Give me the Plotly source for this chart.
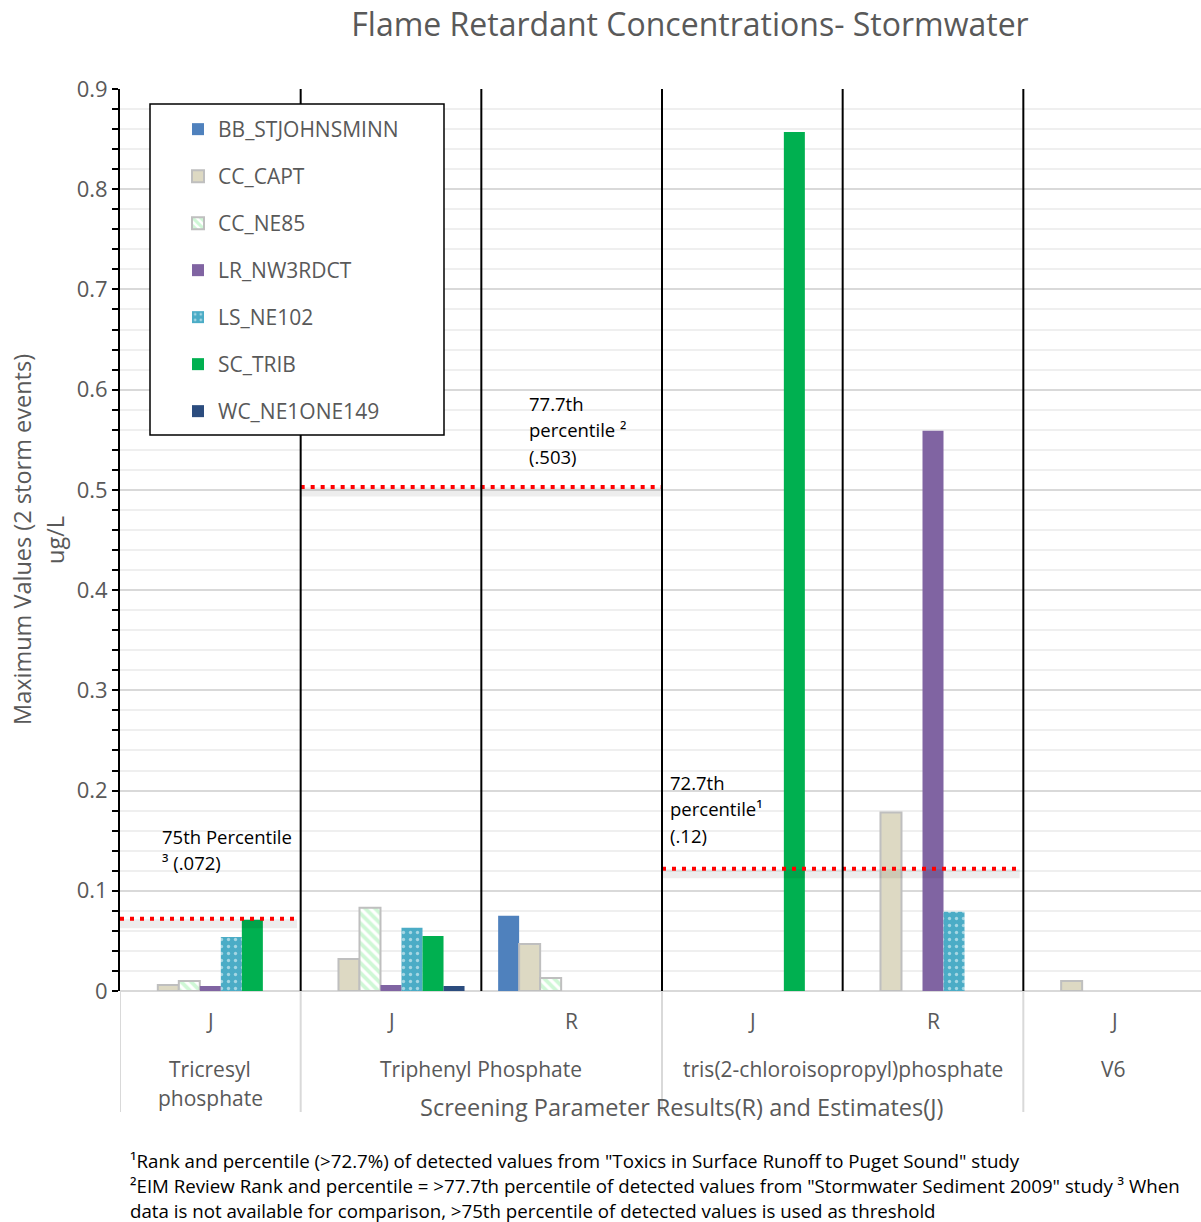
import plotly.graph_objects as go

# ---------------- data ----------------
slots = [0, 1, 2, 3, 4, 5]
sub_labels = ["J", "J", "R", "J", "R", "J"]
group_labels = [("Tricresyl", "phosphate"), ("Triphenyl Phosphate",), ("tris(2-chloroisopropyl)phosphate",), ("V6",)]
group_centers = [0, 1.5, 3.5, 5]

series_names = ["BB_STJOHNSMINN", "CC_CAPT", "CC_NE85", "LR_NW3RDCT", "LS_NE102", "SC_TRIB", "WC_NE1ONE149"]
bb_stjohnsminn = [0, 0, 0.075, 0, 0, 0]
cc_capt = [0.006, 0.032, 0.047, 0, 0.178, 0.010]
cc_ne85 = [0.010, 0.083, 0.013, 0, 0, 0]
lr_nw3rdct = [0.005, 0.006, 0, 0, 0.559, 0]
ls_ne102 = [0.054, 0.063, 0, 0, 0.079, 0]
sc_trib = [0.071, 0.055, 0, 0.857, 0, 0]
wc_ne1one149 = [0, 0.005, 0, 0, 0, 0]
series_values = [bb_stjohnsminn, cc_capt, cc_ne85, lr_nw3rdct, ls_ne102, sc_trib, wc_ne1one149]

threshold_values = [0.072, 0.503, 0.122]
threshold_spans = [(-0.5, 0.48), (0.5, 2.5), (2.5, 4.48)]
threshold_texts = [["75th Percentile", "³ (.072)"], ["77.7th", "percentile ²", "(.503)"], ["72.7th", "percentile¹", "(.12)"]]

y_ticks = [0, 0.1, 0.2, 0.3, 0.4, 0.5, 0.6, 0.7, 0.8, 0.9]
y_ticklabels = ["0", "0.1", "0.2", "0.3", "0.4", "0.5", "0.6", "0.7", "0.8", "0.9"]

footnotes = [
    "¹Rank and percentile (>72.7%) of detected values from \"Toxics in Surface Runoff to Puget Sound\" study",
    "²EIM Review Rank and percentile = >77.7th percentile of detected values from \"Stormwater Sediment 2009\" study ³ When",
    "data is not available for comparison, >75th percentile of detected values is used as threshold",
]

# ---------------- styling ----------------
FONT = "Open Sans"
GRAY = "#595959"
W, H = 1201, 1222
L, T, B = 120, 89, 231
PW = W - L
PH = H - T - B


def px_x(p):
    return (p - L) / PW


def px_y(p):
    return (H - B - p) / PH


styles = [
    dict(color="#4f81bd", line=dict(width=0)),
    dict(color="#ddd9c3", line=dict(color="#bfbfbf", width=2)),
    dict(color="white", line=dict(color="#bfbfbf", width=2),
         pattern=dict(shape="\\", fgcolor="#9ff0ad", bgcolor="white", size=7, solidity=0.55, fillmode="overlay")),
    dict(color="#8064a2", line=dict(width=0)),
    dict(color="#4bacc6", line=dict(width=0),
         pattern=dict(shape=".", fgcolor="white", bgcolor="#4bacc6", size=7, solidity=0.18, fillmode="overlay")),
    dict(color="#00b050", line=dict(width=0)),
    dict(color="#2b4c7e", line=dict(width=0)),
]

fig = go.Figure()
for i, (name, vals) in enumerate(zip(series_names, series_values)):
    yv = [v if v else None for v in vals]
    fig.add_trace(go.Bar(x=slots, y=yv, name=name, marker=styles[i], legendgroup=name))

# threshold lines (shadow + dotted red)
for v, (x0, x1) in zip(threshold_values, threshold_spans):
    fig.add_trace(go.Scatter(x=[x0, x1], y=[v - 0.005, v - 0.005], mode="lines",
                             line=dict(color="rgba(0,0,0,0.07)", width=9), showlegend=False, hoverinfo="skip"))
    fig.add_trace(go.Scatter(x=[x0, x1], y=[v, v], mode="lines",
                             line=dict(color="#ff0000", width=4, dash="4px,6px"), showlegend=False, hoverinfo="skip"))

shapes = []
for xs in [0.5, 1.5, 2.5, 3.5, 4.5]:
    shapes.append(dict(type="line", xref="x", yref="paper", x0=xs, x1=xs, y0=0, y1=1,
                       line=dict(color="black", width=2)))
for xs in [-0.5, 0.5, 2.5, 4.5]:
    shapes.append(dict(type="line", xref="x", yref="paper", x0=xs, x1=xs, y0=0, y1=px_y(1112),
                       line=dict(color="#d9d9d9", width=2)))
shapes.append(dict(type="rect", xref="paper", yref="paper", x0=px_x(150), x1=px_x(444), y0=px_y(435), y1=px_y(104),
                   fillcolor="white", line=dict(color="black", width=1.5), layer="above"))

annotations = []
for xs, lab in zip(slots, sub_labels):
    annotations.append(dict(x=xs, y=px_y(1021), xref="x", yref="paper", text=lab, showarrow=False,
                            font=dict(family=FONT, size=21, color=GRAY), xanchor="center", yanchor="middle"))
for xc, lines in zip(group_centers, group_labels):
    for k, ln in enumerate(lines):
        annotations.append(dict(x=xc, y=px_y(1069 + 29 * k), xref="x", yref="paper", text=ln, showarrow=False,
                                font=dict(family=FONT, size=21, color=GRAY), xanchor="center", yanchor="middle"))
annotations.append(dict(x=px_x(681), y=px_y(1107), xref="paper", yref="paper",
                        text="Screening Parameter Results(R) and Estimates(J)", showarrow=False,
                        font=dict(family=FONT, size=23.5, color=GRAY), xanchor="center", yanchor="middle"))
annotations.append(dict(x=px_x(22), y=px_y(540), xref="paper", yref="paper",
                        text="Maximum Values (2 storm events)", textangle=-90, showarrow=False,
                        font=dict(family=FONT, size=23.5, color=GRAY), xanchor="center", yanchor="middle"))
annotations.append(dict(x=px_x(55), y=px_y(540), xref="paper", yref="paper",
                        text="ug/L", textangle=-90, showarrow=False,
                        font=dict(family=FONT, size=23.5, color=GRAY), xanchor="center", yanchor="middle"))
txt_pos = [(160, 836), (527, 403), (668, 782)]
for (tx, ty), lines in zip(txt_pos, threshold_texts):
    for k, ln in enumerate(lines):
        annotations.append(dict(x=px_x(tx), y=px_y(ty + 26.5 * k), xref="paper", yref="paper", text=ln,
                                showarrow=False, font=dict(family=FONT, size=18.5, color="black"),
                                xanchor="left", yanchor="middle"))
for k, ln in enumerate(footnotes):
    annotations.append(dict(x=px_x(128), y=px_y(1160 + 25 * k), xref="paper", yref="paper", text=ln,
                            showarrow=False, font=dict(family=FONT, size=18.7, color="black"),
                            xanchor="left", yanchor="middle"))

fig.update_layout(
    width=W, height=H,
    margin=dict(l=L, r=0, t=T, b=B),
    paper_bgcolor="white", plot_bgcolor="white",
    barmode="group", bargap=0.186, bargroupgap=0,
    title=dict(text="Flame Retardant Concentrations- Stormwater", x=690 / W, xanchor="center",
               y=1 - 25 / H, yanchor="middle", font=dict(family=FONT, size=32, color=GRAY)),
    font=dict(family=FONT, color=GRAY),
    legend=dict(x=px_x(178), y=px_y(109), xanchor="left", yanchor="top", bgcolor="rgba(0,0,0,0)",
                borderwidth=0, font=dict(family=FONT, size=21, color=GRAY), tracegroupgap=16.7,
                traceorder="grouped"),
    xaxis=dict(range=[-0.5, 5.5 - 3 / 180.67], showticklabels=False, showgrid=False, zeroline=False,
               showline=False, ticks=""),
    yaxis=dict(range=[0, 0.9], tickvals=y_ticks, ticktext=y_ticklabels, showline=True, linecolor="black",
               linewidth=2, ticks="outside", ticklen=6, tickcolor="black", tickwidth=1.5,
               gridcolor="#d9d9d9", gridwidth=2, zeroline=True, zerolinecolor="#d9d9d9", zerolinewidth=2,
               tickfont=dict(family=FONT, size=22, color=GRAY),
               minor=dict(dtick=0.02, ticks="outside", ticklen=6, tickcolor="black", tickwidth=1.5,
                          showgrid=True, gridcolor="#efefef", gridwidth=2)),
    shapes=shapes,
    annotations=annotations,
    showlegend=True,
)

fig.write_html("out.html", config={"displayModeBar": False},
               post_script="document.body.style.margin='0';")
